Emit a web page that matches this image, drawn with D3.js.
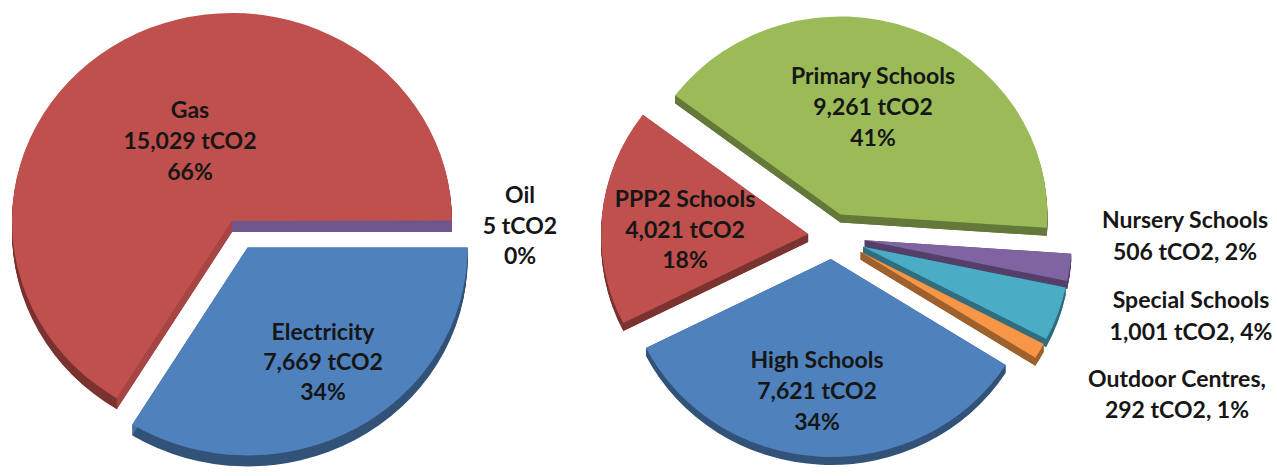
<!DOCTYPE html>
<html>
<head>
<meta charset="utf-8">
<script src="https://cdn.jsdelivr.net/npm/d3@7"></script>
<style>
  html, body { margin: 0; background: #ffffff; }
  svg { display: block; }
  text { font-family: "Lato", "Open Sans", sans-serif; font-weight: 700; fill: #161616; }
</style>
</head>
<body>
<svg id="chart" width="1277" height="476"></svg>
<script>
// Emissions by fuel (tCO2), listed clockwise from three o'clock
const fuelCategories = ["Electricity", "Gas", "Oil"];
const fuelValues = [7669, 15029, 5];

// Emissions by building type (tCO2), listed clockwise
const buildingCategories = ["Primary Schools", "Nursery Schools", "Special Schools", "Outdoor Centres", "High Schools", "PPP2 Schools"];
const buildingValues = [9261, 506, 1001, 292, 7621, 4021];

const unit = "tCO2";

const fmtNum = d3.format(",");
const fmtPct = d3.format(".0%");

const colours = {
  "Electricity": "#4f81bd", "Gas": "#c0504d", "Oil": "#8064a2",
  "Primary Schools": "#9bbb59", "Nursery Schools": "#8064a2", "Special Schools": "#4bacc6",
  "Outdoor Centres": "#f79646", "High Schools": "#4f81bd", "PPP2 Schools": "#c0504d"
};

const deg = Math.PI / 180;

// Geometry of the two tilted pies
const fuelPie = {
  cx: 232, cy: 221, rx: 220, ry: 208, depth: 11,
  start: 90 * deg,
  rimShade: 1.25, faceShade: 0.4,
  explode: { "Electricity": 32, "Gas": 0, "Oil": 0 }
};
const buildingPie = {
  cx: 832, cy: 236, rx: 207, ry: 198, depth: 8,
  start: 307 * deg,
  rimShade: 1.25, faceShade: 1.25,
  explode: { "Primary Schools": 24, "Nursery Schools": 33, "Special Schools": 33,
             "Outdoor Centres": 33, "High Schools": 24, "PPP2 Schools": 24 }
};

// Label placement: centre x, first baseline, line step, and line format
const labelLayout = {
  "Gas":             { x: 190,  y: 118, step: 31, style: "stack" },
  "Electricity":     { x: 323,  y: 340, step: 30, style: "stack" },
  "Oil":             { x: 520,  y: 203, step: 30.5, style: "stack" },
  "Primary Schools": { x: 873,  y: 84,  step: 31, style: "stack" },
  "PPP2 Schools":    { x: 685,  y: 207, step: 30.5, style: "stack" },
  "High Schools":    { x: 817,  y: 368, step: 31, style: "stack" },
  "Nursery Schools": { x: 1185, y: 228, step: 32, style: "pair" },
  "Special Schools": { x: 1191, y: 308, step: 32, style: "pair" },
  "Outdoor Centres": { x: 1177, y: 387, step: 31, style: "pairComma" }
};

const svg = d3.select("#chart");

function drawPie(names, values, cfg) {
  const total = d3.sum(values);
  const pie = d3.pie().sort(null).startAngle(cfg.start).endAngle(cfg.start + 2 * Math.PI);
  const k = cfg.ry / cfg.rx;
  const arcs = pie(values).map((a, i) => {
    const name = names[i];
    const mid = (a.startAngle + a.endAngle) / 2;
    const e = cfg.explode[name] || 0;
    return { a, name, value: values[i], mid, ox: e * Math.sin(mid), oy: -e * Math.cos(mid) };
  });
  const arcGen = d3.arc().innerRadius(0).outerRadius(cfg.rx);
  // screen position of a point at (angle, radius) on an exploded slice
  const pt = (s, ang, r, dy) => [cfg.cx + s.ox + r * Math.sin(ang), cfg.cy + dy + k * (s.oy - r * Math.cos(ang))];

  // back-to-front painting so nearer slices overlap farther ones
  const order = arcs.slice().sort((p, q) => (-Math.cos(p.mid)) - (-Math.cos(q.mid)));
  const g = svg.append("g");
  order.forEach(s => {
    const sg = g.append("g");
    const base = d3.color(colours[s.name]);
    const rim = base.darker(cfg.rimShade).formatHex();
    const face = base.darker(cfg.faceShade).formatHex();
    // extruded body
    for (let dy = cfg.depth; dy >= 1; dy--) {
      sg.append("path")
        .attr("d", arcGen(s.a))
        .attr("transform", `translate(${cfg.cx},${cfg.cy + dy}) scale(1,${k}) translate(${s.ox},${s.oy})`)
        .attr("fill", rim);
    }
    // the two cut faces along the slice radii
    [s.a.startAngle, s.a.endAngle].forEach(ang => {
      const quad = [pt(s, ang, 0, 0), pt(s, ang, cfg.rx, 0), pt(s, ang, cfg.rx, cfg.depth), pt(s, ang, 0, cfg.depth)];
      sg.append("path").attr("d", d3.line()(quad) + "Z").attr("fill", face);
    });
    // top surface
    sg.append("path")
      .attr("d", arcGen(s.a))
      .attr("transform", `translate(${cfg.cx},${cfg.cy}) scale(1,${k}) translate(${s.ox},${s.oy})`)
      .attr("fill", base.formatHex());
  });

  // labels
  const lg = svg.append("g");
  arcs.forEach(s => {
    const L = labelLayout[s.name];
    const val = fmtNum(s.value) + " " + unit;
    const pct = fmtPct(s.value / total);
    let lines;
    if (L.style === "stack") lines = [s.name, val, pct];
    else if (L.style === "pairComma") lines = [s.name + ",", val + ", " + pct];
    else lines = [s.name, val + ", " + pct];
    const t = lg.append("text").attr("text-anchor", "middle").attr("font-size", 23);
    lines.forEach((ln, i) => {
      t.append("tspan").attr("x", L.x).attr("y", L.y + i * L.step).text(ln);
    });
  });
}

drawPie(fuelCategories, fuelValues, fuelPie);
drawPie(buildingCategories, buildingValues, buildingPie);
</script>
</body>
</html>
